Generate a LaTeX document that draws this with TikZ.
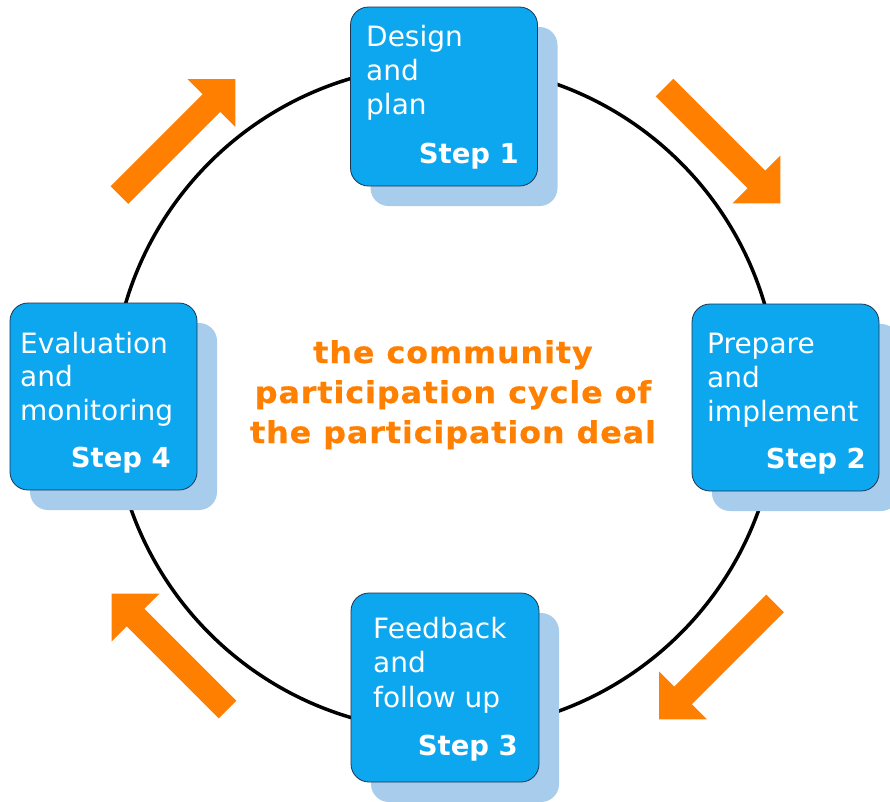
\documentclass[tikz,border=0pt]{standalone}
\usepackage{fontspec}
\setmainfont{DejaVu Sans}
\newfontfamily\titlefont[FakeStretch=1.06,LetterSpace=3,FakeBold=0.5]{DejaVu Sans Bold}
\usetikzlibrary{shadows}

\definecolor{stepblue}{HTML}{0DA7F0}
\definecolor{stepshadow}{HTML}{A8CDEC}
\definecolor{stepedge}{HTML}{1B3550}
\definecolor{cycleorange}{HTML}{FF8000}

% left-aligned and centred stacks of lines with a fixed line distance;
% the baseline of the stack is the baseline of its first line
\newcommand\leftlines[2]{\vtop{\baselineskip=#1\lineskiplimit=-100pt\halign{##\hfil\cr #2\crcr}}}
\newcommand\centrelines[2]{\vtop{\baselineskip=#1\lineskiplimit=-100pt\halign{\hfil##\hfil\cr #2\crcr}}}

\tikzset{
  stepbox/.style={rectangle, rounded corners=18pt, fill=stepblue, draw=stepedge,
    line width=0.8pt, inner sep=0pt,
    general shadow={fill=stepshadow, draw=none, shadow xshift=20pt, shadow yshift=-20pt}},
  steptext/.style={inner sep=0pt, text=white, font=\fontsize{28}{34}\selectfont},
  steplabel/.style={inner sep=0pt, text=white, font=\fontsize{27.5}{34}\selectfont\bfseries},
  titletext/.style={inner sep=0pt, text=cycleorange, font=\fontsize{30}{40}\titlefont},
  cycleline/.style={draw=black, line width=3.5pt},
  flowarrow/.pic={
    \fill[cycleorange] (0,-12.5) -- (130,-12.5) -- (130,-34) -- (164,0)
      -- (130,34) -- (130,12.5) -- (0,12.5) -- cycle;
  }
}

\begin{document}
\begin{tikzpicture}[x=1pt,y=-1pt]
  \useasboundingbox (0,0) rectangle (890,801);
  \clip (0,0) rectangle (890,801);
  \fill[white] (0,0) rectangle (890,801);

  % the cycle
  \coordinate (c) at (445,398);
  \draw[cycleline] (c) circle (333);

  % direction arrows between the steps
  \pic[rotate=45]   at (119.5,195)  {flowarrow};
  \pic[rotate=-45]  at (664.5,87.5) {flowarrow};
  \pic[rotate=-135] at (775,603.5)  {flowarrow};
  \pic[rotate=135]  at (227.5,709.5){flowarrow};

  % the four step boxes
  \node[stepbox, minimum width=187pt, minimum height=179pt] (s1) at (444,96.5) {};
  \node[stepbox, minimum width=187pt, minimum height=187pt] (s2) at (785.5,397.5) {};
  \node[stepbox, minimum width=188pt, minimum height=189pt] (s3) at (445,687.5) {};
  \node[stepbox, minimum width=187pt, minimum height=187pt] (s4) at (103.5,396.5) {};

  % step descriptions
  \node[steptext, anchor=base west] (d1) at (366,46)  {\leftlines{34pt}{Design\cr and\cr plan}};
  \node[steptext, anchor=base west] (d2) at (707,353) {\leftlines{34pt}{Prepare\cr and\cr implement}};
  \node[steptext, anchor=base west] (d3) at (373,638) {\leftlines{34.5pt}{Feedback\cr and\cr follow up}};
  \node[steptext, anchor=base west] (d4) at (20,353)  {\leftlines{33.5pt}{Evaluation\cr and\cr monitoring}};

  % step numbers
  \node[steplabel, anchor=base east] (l1) at (519,163) {Step 1};
  \node[steplabel, anchor=base east] (l2) at (866,468) {Step 2};
  \node[steplabel, anchor=base east] (l3) at (518,755) {Step 3};
  \node[steplabel, anchor=base east] (l4) at (171,467) {Step 4};

  % title in the middle of the cycle
  \node[titletext, anchor=base] (title) at (453,363)
    {\centrelines{40pt}{the community\cr participation cycle of\cr the participation deal}};
\end{tikzpicture}
\end{document}
